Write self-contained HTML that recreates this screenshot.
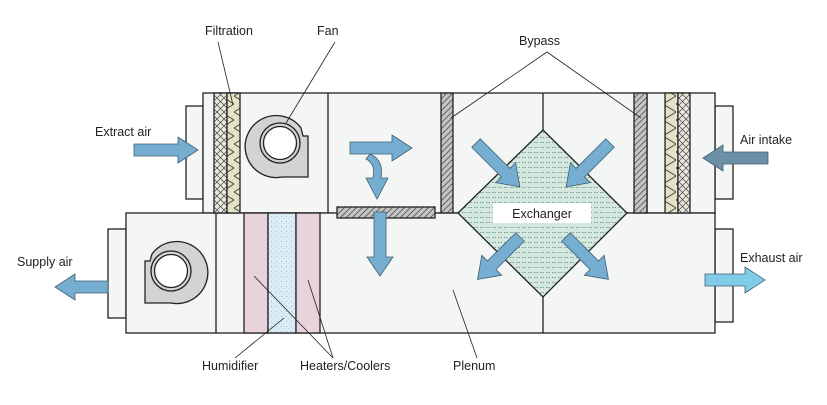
<!DOCTYPE html>
<html><head><meta charset="utf-8"><style>
html,body{margin:0;padding:0;background:#fff;}
svg{display:block;}
text{font-family:"Liberation Sans",sans-serif;font-size:12.5px;fill:#222;}
</style></head><body>
<svg width="827" height="405" viewBox="0 0 827 405" xmlns="http://www.w3.org/2000/svg">
<defs>
<pattern id="xh" width="7" height="7" patternUnits="userSpaceOnUse">
<rect width="7" height="7" fill="#eae8df"/><path d="M0,0L7,7M7,0L0,7" stroke="#444" stroke-width="0.7"/></pattern>
<pattern id="zz" width="13" height="16" patternUnits="userSpaceOnUse">
<rect width="13" height="16" fill="#e3e2c6"/><path d="M0,0L13,8L0,16" stroke="#333" stroke-width="0.8" fill="none"/></pattern>
<pattern id="zz2" width="13" height="16" patternUnits="userSpaceOnUse">
<rect width="13" height="16" fill="#e3e2c6"/><path d="M13,0L0,8L13,16" stroke="#333" stroke-width="0.8" fill="none"/></pattern>
<pattern id="dh" width="6" height="6" patternUnits="userSpaceOnUse">
<rect width="6" height="6" fill="#c4c4c4"/><path d="M0,6L6,0M-1,1L1,-1M5,7L7,5" stroke="#555" stroke-width="0.8"/></pattern>
<pattern id="dots" width="6" height="5" patternUnits="userSpaceOnUse">
<rect width="6" height="5" fill="#d4e8df"/><path d="M0,2.5H4" stroke="#7aa396" stroke-width="0.9" stroke-dasharray="1.5,1"/></pattern>
<pattern id="hum" width="5" height="5" patternUnits="userSpaceOnUse">
<rect width="5" height="5" fill="#dcedf6"/><circle cx="1.5" cy="1.5" r="0.5" fill="#7fb3cc"/><circle cx="4" cy="3.5" r="0.4" fill="#7fb3cc"/></pattern>
</defs>

<g fill="#f4f5f5" stroke="#222" stroke-width="1.3">
<rect x="186" y="106" width="17" height="93"/>
<rect x="108" y="229" width="18" height="89"/>
<rect x="715" y="106" width="18" height="93"/>
<rect x="715" y="229" width="18" height="93"/>
<rect x="203" y="93" width="512" height="120"/>
<rect x="126" y="213" width="589" height="120"/>
</g>
<g stroke="#222" stroke-width="1.3" fill="none">
<line x1="328" y1="93" x2="328" y2="213"/>
<line x1="543" y1="93" x2="543" y2="130"/>
<line x1="543" y1="297" x2="543" y2="333"/>
<line x1="216" y1="213" x2="216" y2="333"/>
<line x1="647" y1="93" x2="647" y2="213"/>
</g>
<g stroke="#222" stroke-width="1.3">
<rect x="214" y="93" width="13" height="120" fill="url(#xh)"/>
<rect x="227" y="93" width="13" height="120" fill="url(#zz)"/>
<rect x="665" y="93" width="13" height="120" fill="url(#zz2)"/>
<rect x="678" y="93" width="12" height="120" fill="url(#xh)"/>
<rect x="441" y="93" width="12" height="120" fill="url(#dh)"/>
<rect x="634" y="93" width="13" height="120" fill="url(#dh)"/>
<rect x="337" y="207" width="98" height="11" fill="url(#dh)"/>
<rect x="244" y="213" width="24" height="120" fill="#e8d3dc"/>
<rect x="268" y="213" width="28" height="120" fill="url(#hum)"/>
<rect x="296" y="213" width="24" height="120" fill="#e8d3dc"/>
<polygon points="543,130 627,213 543,297 458,213" fill="url(#dots)"/>
</g>
<rect x="493" y="203" width="98" height="20" fill="#fff"/>
<text x="542" y="218" text-anchor="middle" font-size="13">Exchanger</text>

<g stroke="#222" stroke-width="1.3">
<path d="M308,136 L308,177 L282,177 A31,31 0 1 1 301,128 L303,136 Z" fill="#d3d3d3"/>
<circle cx="280" cy="143" r="20" fill="#d3d3d3"/>
<circle cx="280" cy="143" r="16.5" fill="#fff"/>
<path d="M145,261 L145,303 L171,303 A31,31 0 1 0 152,254 L150,261 Z" fill="#d3d3d3"/>
<circle cx="171" cy="271" r="20" fill="#d3d3d3"/>
<circle cx="171" cy="271" r="16.5" fill="#fff"/>
</g>

<g stroke="#3f5f70" stroke-width="0.8" fill="#75aed0">
<path d="M0,-6H44V-13L64,0L44,13V6H0Z" transform="translate(134,150)"/>
<path d="M0,-6H33V-13L53,0L33,13V6H0Z" transform="translate(108,287) rotate(180)"/>
<path d="M0,-6H45V-13L65,0L45,13V6H0Z" transform="translate(768,158) rotate(180)" fill="#6c91a6"/>
<path d="M0,-6H40V-13L60,0L40,13V6H0Z" transform="translate(705,280)" fill="#80cbe8"/>
<path d="M0,-6H42V-13L62,0L42,13V6H0Z" transform="translate(350,148)"/>
<path d="M370,154 Q384,160 381,178 L388,178 L377,199 L366,178 L373,178 Q376,164 366,159 Z"/>
<path d="M0,-6H45V-13L64,0L45,13V6H0Z" transform="translate(380,212) rotate(90)"/>
<path d="M0,-6H42V-14L62,0L42,14V6H0Z" transform="translate(476,143) rotate(45)"/>
<path d="M0,-6H42V-14L62,0L42,14V6H0Z" transform="translate(610,143) rotate(135)"/>
<path d="M0,-6H40V-14L60,0L40,14V6H0Z" transform="translate(520,237) rotate(135)"/>
<path d="M0,-6H40V-14L60,0L40,14V6H0Z" transform="translate(566,237) rotate(45)"/>
</g>

<g stroke="#222" stroke-width="0.8">
<line x1="218" y1="42" x2="233" y2="105"/>
<line x1="335" y1="42" x2="286" y2="123"/>
<line x1="547" y1="52" x2="451" y2="118"/>
<line x1="547" y1="52" x2="641" y2="118"/>
<line x1="235" y1="358" x2="284" y2="318"/>
<line x1="333" y1="358" x2="254" y2="276"/>
<line x1="333" y1="358" x2="308" y2="280"/>
<line x1="477" y1="358" x2="453" y2="290"/>
</g>
<text x="205" y="35">Filtration</text>
<text x="317" y="35">Fan</text>
<text x="519" y="45">Bypass</text>
<text x="95" y="136">Extract air</text>
<text x="740" y="144">Air intake</text>
<text x="17" y="266">Supply air</text>
<text x="740" y="262">Exhaust air</text>
<text x="202" y="370">Humidifier</text>
<text x="300" y="370">Heaters/Coolers</text>
<text x="453" y="370">Plenum</text>
</svg>
</body></html>
